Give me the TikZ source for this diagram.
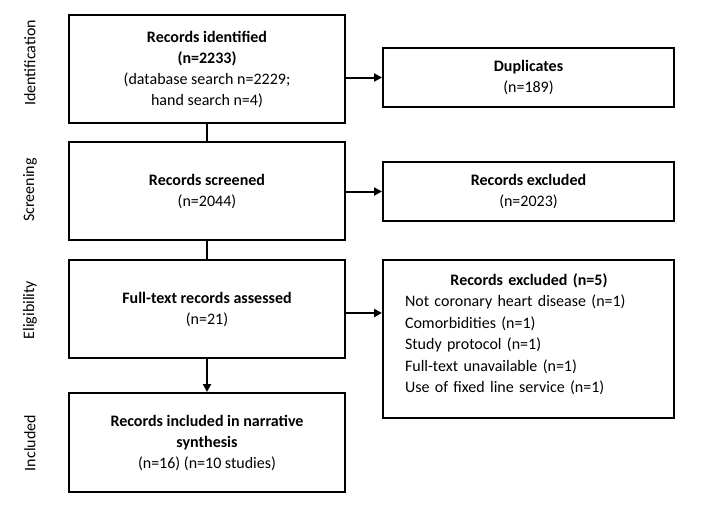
\documentclass[tikz,border=0pt]{standalone}
\usepackage{fontspec}
\setmainfont{Carlito}
\usetikzlibrary{arrows.meta}
\begin{document}
\begin{tikzpicture}[x=1pt,y=-1pt,
  box/.style={draw=black,line width=2pt,rectangle,align=center,inner sep=0pt,
    font=\fontsize{16}{21}\selectfont},
  lbox/.style={box,minimum width=276pt},
  rbox/.style={box,minimum width=291pt},
  phase/.style={rotate=90,font=\fontsize{16}{17}\selectfont,inner sep=0pt},
  conn/.style={line width=2pt},
  arr/.style={conn,-{Triangle[length=8pt,width=8pt]}},
  txt/.style={font=\fontsize{16}{21.5}\selectfont,align=left,inner sep=0pt,text width=248pt}
]
\useasboundingbox (0,0) rectangle (711,512);
\fill[white] (0,0) rectangle (711,512);

% phase labels
\node[phase] (p1) at (30,63) {Identification};
\node[phase] (p2) at (30,190) {Screening};
\node[phase] (p3) at (30,310) {Eligibility};
\node[phase] (p4) at (30,443) {Included};

% left column
\node[lbox,minimum height=108pt] (b1) at (207,69)
  {\textbf{Records identified}\\\textbf{(n=2233)}\\(database search n=2229;\\hand search n=4)};
\node[lbox,minimum height=98pt] (b2) at (207,191)
  {\textbf{Records screened}\\(n=2044)};
\node[lbox,minimum height=98pt] (b3) at (207,309)
  {\textbf{Full-text records assessed}\\(n=21)};
\node[lbox,minimum height=99pt] (b4) at (207,442.5)
  {\textbf{Records included in narrative}\\\textbf{synthesis}\\(n=16) (n=10 studies)};

% right column
\node[rbox,minimum height=59pt] (d) at (528.5,77.5)
  {\textbf{Duplicates}\\(n=189)};
\node[rbox,minimum height=59pt] (e) at (528.5,191.5)
  {\textbf{Records excluded}\\(n=2023)};
\node[rbox,minimum height=158pt] (x) at (528.5,339) {};
\node[txt] (xt) at (529,334)
  {\makebox[248pt][c]{\textbf{Records excluded (n=5)}}\\
   Not coronary heart disease (n=1)\\
   Comorbidities (n=1)\\
   Study protocol (n=1)\\
   Full-text unavailable (n=1)\\
   Use of fixed line service (n=1)};

% connectors
\draw[conn] (b1.south) -- (b2.north);
\draw[conn] (b2.south) -- (b3.north);
\draw[arr] (b3.south) -- (b4.north);
\draw[arr] (b1.east |- d.west) -- (d.west);
\draw[arr] (b2.east |- e.west) -- (e.west);
\draw[arr] ([yshift=-4pt]b3.east) -- ([yshift=-4pt]b3.east -| x.west);
\end{tikzpicture}
\end{document}
